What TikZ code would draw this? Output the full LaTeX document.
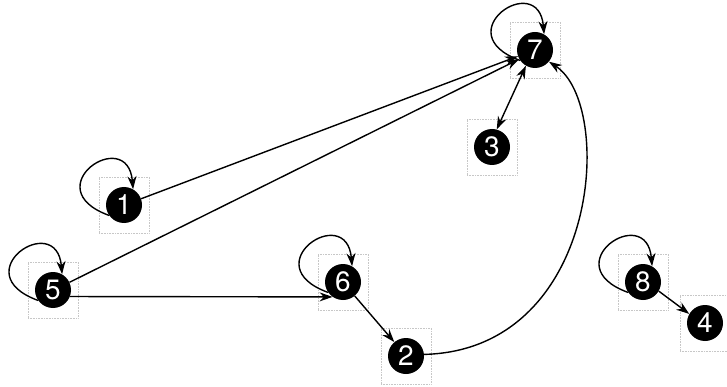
\documentclass[tikz,border=0pt]{standalone}
\usepackage{fontspec}
\setmainfont{TeX Gyre Heros}
\usetikzlibrary{arrows.meta}
\begin{document}
\begin{tikzpicture}[x=1pt,y=-1pt,
  vtx/.style={circle,fill=black,text=white,minimum size=36pt,inner sep=0pt,font=\fontsize{28}{28}\selectfont},
  frame/.style={draw=black!22,densely dotted,line width=0.6pt,minimum width=50pt,minimum height=56pt,inner sep=0pt},
  tip/.style={-{Stealth[length=13pt,width=9pt]}},
  edge/.style={line width=1.4pt,tip}]
\clip (0,0) rectangle (727,387);
% frames
\foreach \n/\x/\y in {1/124/205,2/406/356,3/492/147,4/705/323,5/53/290,6/343/282,7/535/50,8/643/282}{
  \node[frame] (f\n) at (\x,\y) {};
}
\node[vtx] (n1) at (124,205) {1};
\node[vtx] (n2) at (406,356) {2};
\node[vtx] (n3) at (492,147) {3};
\node[vtx] (n4) at (705,323) {4};
\node[vtx] (n5) at (53,290) {5};
\node[vtx] (n6) at (343,282) {6};
\node[vtx] (n7) at (535,50) {7};
\node[vtx] (n8) at (643,282) {8};
% self loops (y axis points down, so polar angles are negated)
\foreach \n in {1,5,6,7,8}{
  \draw[edge] (n\n.215) .. controls +(-160:80) and +(-95:65) .. (n\n.60);
}
% edges
\draw[edge] (n1.20) -- (n7.200);
\draw[edge] (n5.25) -- (n7.210);
\draw[edge] (n5.-21) -- (n6.235);
\draw[edge] (n6.-50) -- (n2.130);
\draw[edge] (n8.-30) -- (n4.150);
\draw[line width=1.4pt,{Stealth[length=13pt,width=9pt]}-{Stealth[length=13pt,width=9pt]}] (n7.240) -- (n3.75);
\draw[edge] (n2.5) .. controls (600,350) and (615,105) .. (n7.-40);
\end{tikzpicture}
\end{document}
